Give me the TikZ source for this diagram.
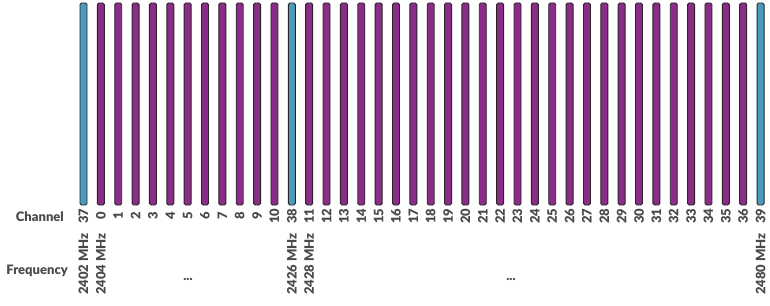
\documentclass[tikz,border=0pt]{standalone}
\usepackage{fontspec}
\setmainfont{Lato}[BoldFont={Lato Black}]
\definecolor{adv}{HTML}{4A9CBF}
\definecolor{dat}{HTML}{8A2C88}
\definecolor{txt}{HTML}{4A4A4A}
\begin{document}
\begin{tikzpicture}[x=1pt,y=-1pt,
  chbar/.style={draw=black!85,line width=0.9pt,rounded corners=1.5pt},
  lbl/.style={font=\fontsize{13}{14}\selectfont\bfseries,text=txt,inner sep=0pt},
  rlbl/.style={lbl,rotate=90}]
\useasboundingbox (0,0) rectangle (770,305);
\def\chlist{37,0,1,2,3,4,5,6,7,8,9,10,38,11,12,13,14,15,16,17,18,19,20,21,22,23,24,25,26,27,28,29,30,31,32,33,34,35,36,39}
\foreach \c [count=\i from 0] in \chlist {
  \pgfmathsetmacro{\xc}{83.5+\i*17.36}
  \ifnum\c>36 \def\col{adv}\else\def\col{dat}\fi
  \draw[chbar,fill=\col] (\xc-3.5,3) rectangle (\xc+3.5,205);
  \node[rlbl] (ch\i) at (\xc,216) {\c};
}
\node[lbl,anchor=east] (chan) at (64,217) {Channel};
\node[lbl,anchor=east] (freq) at (68,271) {Frequency};
\node[rlbl] (f0) at (83.5,264) {2402 MHz};
\node[rlbl] (f1) at (100.86,264) {2404 MHz};
\node[rlbl] (f12) at (291.82,264) {2426 MHz};
\node[rlbl] (f13) at (309.18,264) {2428 MHz};
\node[rlbl] (f39) at (760.54,264) {2480 MHz};
\node[lbl] (d1) at (188,279) {...};
\node[lbl] (d2) at (511,279) {...};
\end{tikzpicture}
\end{document}
